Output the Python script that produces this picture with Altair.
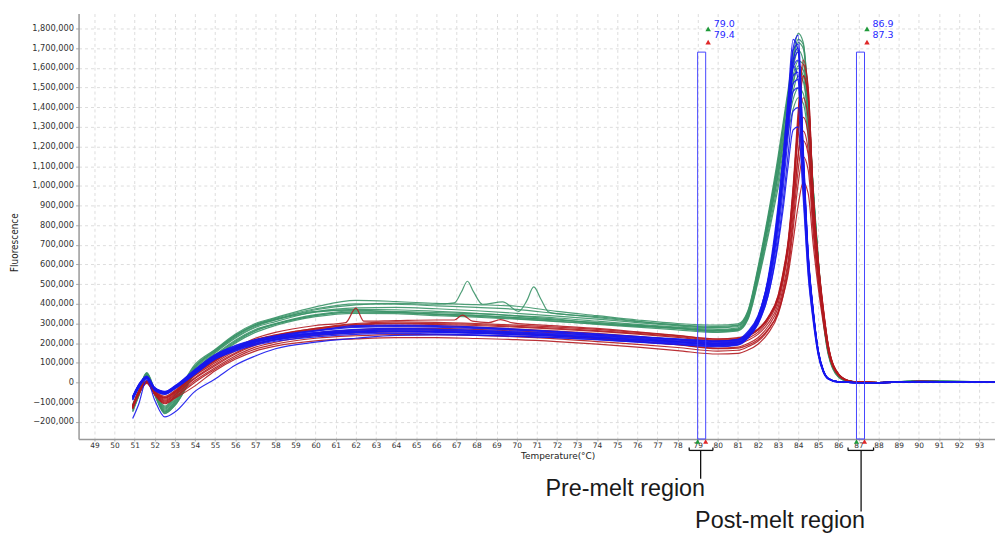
import altair as alt
import pandas as pd

# ---------------- data (fluorescence values in thousands) ----------------
T = [50.9, 51.2, 51.6, 52.0, 52.5, 53, 54, 55, 56, 57, 58, 60, 62, 64, 66, 68, 70, 72, 74, 76, 78, 80, 81,
     81.5, 82, 82.5, 83, 83.25, 83.5, 83.75, 84, 84.25, 84.5, 84.75, 85, 85.25, 85.5, 86, 86.5, 87, 88, 90, 94]

T_G2 = [50.9, 51.2, 51.6, 52.0, 52.5, 53, 54, 55, 56, 57, 58, 60, 62, 64, 66,
        66.9, 67.25, 67.55, 67.85, 68.3, 69.3, 70.1, 70.5, 70.85, 71.2, 71.6,
        72, 74, 76, 78, 80, 81,
        81.5, 82, 82.5, 83, 83.25, 83.5, 83.75, 84, 84.25, 84.5, 84.75, 85, 85.25, 85.5, 86, 86.5, 87, 88, 90, 94]

T_R1 = [50.9, 51.2, 51.6, 52.0, 52.5, 53, 54, 55, 56, 57, 58, 60,
        61.5, 62.0, 62.4, 64, 66, 66.9, 67.3, 67.8, 68.6, 69.2, 69.8,
        72, 74, 76, 78, 80, 81,
        81.5, 82, 82.5, 83, 83.25, 83.5, 83.75, 84, 84.25, 84.5, 84.75, 85, 85.25, 85.5, 86, 86.5, 87, 88, 90, 94]

G1 = [-115, -45, 45, -40, -125, -70, 92,
      168, 245, 300, 330, 385, 418, 412, 402, 396, 388, 362, 340, 318, 300, 292, 298,
      365, 585, 850, 1150, 1320, 1490, 1660, 1775, 1730, 1450, 980, 620, 340, 160, 35, 8, 3, 0, 6, 0]
G2 = [-130, -55, 40, -50, -140, -95, 75,
      160, 235, 290, 320, 370, 395, 402, 398,
      405, 460, 515, 462, 398, 410, 362, 415, 486, 425, 358,
      350, 335, 312, 292, 280, 290,
      355, 570, 830, 1120, 1290, 1460, 1630, 1728, 1700, 1440, 990, 630, 345, 165, 38, 9, 2, 0, 8, 0]
G3 = [-120, -50, 48, -55, -150, -105, 60,
      150, 225, 280, 310, 360, 380, 382, 375, 365, 352, 338, 322, 305, 288, 278, 285,
      350, 560, 820, 1110, 1280, 1450, 1600, 1690, 1640, 1390, 960, 600, 330, 150, 32, 6, 2, 0, 7, 0]
G4 = [-140, -65, 35, -60, -155, -115, 50,
      140, 215, 270, 300, 345, 365, 362, 355, 350, 340, 328, 312, 296, 282, 270, 278,
      345, 555, 810, 1090, 1250, 1410, 1560, 1635, 1620, 1400, 980, 620, 345, 165, 36, 8, 2, 0, 9, 0]
G5 = [-110, -40, 50, -35, -120, -65, 85,
      165, 240, 292, 322, 362, 368, 358, 348, 342, 330, 318, 305, 292, 278, 265, 272,
      335, 540, 790, 1060, 1220, 1380, 1520, 1598, 1560, 1330, 930, 590, 325, 150, 30, 5, 1, 0, 6, 0]
G6 = [-150, -70, 30, -65, -158, -117, 45,
      125, 200, 255, 290, 335, 352, 350, 340, 332, 322, 310, 298, 286, 275, 262, 268,
      330, 535, 785, 1050, 1200, 1350, 1480, 1558, 1530, 1330, 940, 600, 335, 155, 34, 7, 2, 0, 5, 0]
G7 = [-125, -55, 42, -48, -135, -88, 70,
      155, 230, 285, 318, 358, 372, 370, 362, 352, 338, 322, 300, 288, 275, 258, 265,
      325, 520, 760, 1020, 1170, 1320, 1440, 1498, 1470, 1280, 910, 580, 320, 148, 30, 6, 1, 0, 8, 0]
G8 = [-135, -60, 38, -52, -145, -100, 55,
      130, 205, 262, 296, 340, 360, 356, 345, 336, 325, 312, 296, 282, 268, 255, 262,
      320, 510, 740, 990, 1130, 1270, 1390, 1448, 1420, 1240, 880, 560, 310, 140, 28, 5, 1, 0, 6, 0]
G9 = [-118, -48, 46, -44, -130, -80, 80,
      160, 238, 295, 326, 375, 400, 398, 390, 382, 372, 350, 330, 310, 294, 285, 292,
      360, 575, 835, 1130, 1300, 1470, 1640, 1745, 1720, 1440, 975, 615, 338, 158, 34, 7, 2, 0, 6, 0]
G10 = [-145, -68, 32, -62, -150, -110, 48,
       135, 210, 265, 298, 342, 358, 356, 348, 340, 330, 318, 304, 290, 276, 265, 272,
       338, 545, 800, 1070, 1230, 1390, 1530, 1610, 1590, 1370, 960, 610, 340, 160, 35, 7, 2, 0, 7, 0]

B1 = [-75, -15, 30, -30, -50, -20, 60,
      135, 180, 210, 230, 255, 270, 275, 272, 265, 258, 250, 240, 228, 215, 205, 212,
      250, 330, 530, 900, 1150, 1430, 1700, 1766, 1200, 660, 370, 165, 65, 22, 3, 1, 0, 0, 5, 0]
B2 = [-80, -20, 25, -35, -55, -25, 55,
      128, 172, 205, 225, 250, 262, 268, 265, 260, 252, 243, 232, 220, 208, 198, 205,
      240, 320, 510, 880, 1140, 1450, 1745, 1690, 1100, 600, 340, 150, 58, 20, 3, 1, 0, 0, 4, 0]
B3 = [-70, -10, 33, -25, -45, -17, 67,
      142, 188, 218, 238, 265, 285, 288, 285, 278, 268, 258, 245, 232, 220, 210, 218,
      255, 335, 520, 850, 1080, 1360, 1640, 1700, 1180, 650, 365, 160, 62, 21, 3, 1, 0, 0, 5, 0]
B4 = [-85, -25, 22, -38, -60, -30, 45,
      120, 165, 195, 215, 240, 252, 258, 255, 250, 243, 235, 225, 212, 198, 188, 195,
      230, 305, 470, 800, 1040, 1330, 1600, 1640, 1150, 640, 360, 158, 60, 20, 3, 1, 0, 0, 4, 0]
B5 = [-72, -12, 28, -28, -48, -22, 62,
      138, 182, 212, 232, 262, 290, 292, 290, 282, 272, 260, 248, 235, 222, 212, 220,
      260, 340, 520, 840, 1060, 1320, 1560, 1578, 1120, 640, 360, 160, 60, 20, 3, 1, 0, 0, 6, 0]
B6 = [-78, -18, 26, -33, -52, -27, 50,
      125, 170, 200, 220, 245, 258, 262, 258, 252, 245, 238, 228, 216, 202, 192, 200,
      235, 305, 460, 760, 980, 1250, 1480, 1498, 1080, 620, 350, 155, 58, 19, 3, 1, 0, 0, 5, 0]
B7 = [-90, -28, 20, -40, -58, -30, 42,
      118, 160, 190, 210, 232, 245, 250, 247, 242, 236, 228, 218, 205, 192, 182, 190,
      225, 295, 440, 720, 920, 1160, 1380, 1398, 980, 560, 320, 142, 54, 18, 2, 1, 0, 0, 4, 0]
B8 = [-183, -110, 15, -90, -175, -150, -45,
      18, 88, 135, 172, 205, 225, 240, 242, 240, 235, 228, 218, 206, 195, 185, 193,
      230, 300, 440, 700, 880, 1100, 1285, 1300, 940, 540, 310, 138, 52, 17, 2, 1, 0, 0, 5, 0]
B9 = [-82, -22, 24, -36, -56, -28, 52,
      130, 176, 208, 228, 252, 266, 272, 270, 264, 256, 246, 236, 224, 212, 202, 209,
      245, 325, 500, 860, 1110, 1400, 1690, 1720, 1160, 640, 360, 160, 62, 21, 3, 1, 0, 0, 5, 0]
B10 = [-76, -16, 29, -29, -49, -21, 58,
       132, 178, 206, 226, 248, 258, 262, 260, 255, 248, 240, 230, 218, 206, 196, 203,
       238, 315, 490, 820, 1060, 1340, 1620, 1680, 1150, 630, 355, 156, 60, 20, 3, 1, 0, 0, 4, 0]
B11 = [-88, -26, 21, -39, -57, -31, 44,
       122, 168, 198, 218, 242, 256, 262, 260, 255, 248, 240, 230, 218, 205, 195, 202,
       236, 310, 480, 810, 1050, 1340, 1610, 1540, 1040, 600, 340, 150, 57, 19, 3, 1, 0, 0, 4, 0]
B12 = [-74, -14, 31, -27, -47, -19, 64,
       140, 186, 216, 236, 262, 280, 284, 282, 275, 266, 256, 244, 232, 219, 209, 216,
       250, 330, 500, 810, 1030, 1300, 1520, 1540, 1080, 620, 350, 155, 58, 19, 3, 1, 0, 0, 5, 0]

R1 = [-120, -45, 8, -45, -75, -45, 48, 115, 175, 225, 255, 290,
      305, 378, 312, 315, 318, 318, 343, 312, 305, 320, 303,
      288, 275, 258, 240, 222, 228,
      240, 270, 330, 440, 560, 720, 1000, 1380, 1640, 1500, 960, 620, 380, 190, 45, 10, 2, 0, 6, 0]
R2 = [-125, -50, 5, -50, -85, -55, 35,
      100, 160, 205, 232, 268, 285, 290, 288, 282, 272, 262, 250, 235, 218, 200, 205,
      225, 255, 315, 420, 540, 700, 970, 1340, 1618, 1490, 960, 615, 375, 188, 44, 10, 2, 0, 5, 0]
R3 = [-128, -55, 2, -55, -95, -65, 20,
      85, 145, 190, 218, 252, 268, 275, 275, 270, 262, 252, 240, 225, 208, 190, 195,
      215, 245, 300, 400, 510, 670, 930, 1290, 1558, 1450, 940, 605, 370, 185, 43, 9, 2, 0, 6, 0]
R4 = [-122, -48, 6, -48, -80, -50, 40,
      108, 168, 212, 238, 272, 292, 298, 295, 290, 282, 272, 260, 246, 230, 212, 216,
      235, 265, 325, 430, 545, 700, 950, 1250, 1448, 1340, 900, 585, 360, 180, 42, 9, 2, 0, 5, 0]
R5 = [-130, -58, 0, -58, -100, -72, 10,
      75, 135, 180, 205, 238, 252, 258, 258, 252, 244, 235, 222, 208, 192, 175, 180,
      198, 228, 285, 380, 480, 620, 860, 1160, 1348, 1260, 860, 565, 350, 175, 40, 9, 2, 0, 4, 0]
R6 = [-118, -42, 8, -42, -70, -40, 50,
      118, 175, 218, 242, 275, 296, 302, 300, 295, 286, 276, 264, 250, 234, 216, 220,
      238, 268, 325, 425, 530, 675, 900, 1150, 1278, 1180, 820, 545, 340, 172, 40, 9, 2, 0, 6, 0]
R7 = [-135, -62, -5, -62, -108, -80, -17,
      60, 118, 160, 185, 212, 222, 228, 228, 224, 218, 208, 195, 180, 162, 145, 148,
      165, 195, 250, 345, 440, 570, 780, 1010, 1148, 1080, 760, 510, 320, 162, 38, 8, 2, 0, 5, 0]
R8 = [-125, -52, 3, -52, -90, -60, 25,
      92, 150, 195, 220, 250, 262, 268, 266, 260, 252, 240, 226, 210, 192, 172, 175,
      190, 218, 270, 355, 440, 550, 720, 900, 1018, 960, 700, 480, 300, 155, 36, 8, 2, 0, 4, 0]
R9 = [-121, -47, 7, -46, -78, -48, 44,
      112, 170, 215, 240, 276, 300, 308, 306, 300, 292, 282, 270, 255, 238, 220, 224,
      242, 272, 332, 440, 555, 710, 980, 1320, 1560, 1450, 935, 600, 368, 184, 43, 9, 2, 0, 6, 0]
R10 = [-132, -60, -2, -60, -104, -76, 2,
       68, 126, 170, 195, 225, 238, 244, 244, 240, 232, 222, 208, 194, 178, 160, 164,
       182, 210, 265, 360, 460, 595, 820, 1080, 1230, 1160, 800, 530, 330, 166, 39, 8, 2, 0, 5, 0]

curves = [
    ("G1", "green", T, G1), ("G2", "green", T_G2, G2), ("G3", "green", T, G3), ("G4", "green", T, G4),
    ("G5", "green", T, G5), ("G6", "green", T, G6), ("G7", "green", T, G7), ("G8", "green", T, G8),
    ("G9", "green", T, G9), ("G10", "green", T, G10),
    ("R1", "red", T_R1, R1), ("R2", "red", T, R2), ("R3", "red", T, R3), ("R4", "red", T, R4),
    ("R5", "red", T, R5), ("R6", "red", T, R6), ("R7", "red", T, R7), ("R8", "red", T, R8),
    ("R9", "red", T, R9), ("R10", "red", T, R10),
    ("B1", "blue", T, B1), ("B2", "blue", T, B2), ("B3", "blue", T, B3), ("B4", "blue", T, B4),
    ("B5", "blue", T, B5), ("B6", "blue", T, B6), ("B7", "blue", T, B7), ("B8", "blue", T, B8),
    ("B9", "blue", T, B9), ("B10", "blue", T, B10), ("B11", "blue", T, B11), ("B12", "blue", T, B12),
]

# melt regions (start / end temperature) and their marker labels
region_start = [79.0, 86.9]
region_end = [79.4, 87.3]
region_top = [1680000, 1680000]
start_labels = ["79.0", "86.9"]
end_labels = ["79.4", "87.3"]
region_names = ["Pre-melt region", "Post-melt region"]
bracket_left = [78.58, 86.48]
bracket_right = [79.76, 87.75]
bracket_mid = [79.15, 87.13]
name_center = [75.4, 83.1]

rows = []
for name, grp, xs_, ys_ in curves:
    assert len(xs_) == len(ys_), name
    for t, v in zip(xs_, ys_):
        rows.append({"T": t, "F": v * 1000, "curve": name, "group": grp})
df = pd.DataFrame(rows)

COLORS = {"green": "#3b9468", "red": "#b3191f", "blue": "#1717ee"}

X_DOMAIN = [48.21, 93.79]
Y_DOMAIN = [-287000, 1876000]
xsc = alt.Scale(domain=X_DOMAIN, nice=False, zero=False)
ysc = alt.Scale(domain=Y_DOMAIN, nice=False, zero=False)

FONT = "DejaVu Sans"
x_axis = alt.Axis(values=list(range(49, 94)), title="Temperature(°C)", labelFont=FONT, labelFontSize=7.5,
                  labelColor="#333333", tickSize=2, tickColor="#aaaaaa", labelPadding=1,
                  domainColor="#999999", domainWidth=1.5, grid=True, gridColor="#dddddd",
                  gridDash=[3, 3], labelFlush=False, labelOverlap=False,
                  titleFont=FONT, titleFontSize=9, titleFontWeight="normal", titleColor="#222222",
                  titleX=482, titleY=17, titleBaseline="middle", titleAlign="center")
y_axis = alt.Axis(values=list(range(-200000, 1800001, 100000)), format=",.0f", formatType="number",
                  title="Fluorescence",
                  labelFont=FONT, labelFontSize=8.3, labelColor="#333333", tickSize=3,
                  tickColor="#aaaaaa", labelPadding=2, domainColor="#999999", domainWidth=1.5,
                  grid=True, gridColor="#dddddd", gridDash=[3, 3], labelFlush=False, labelOverlap=False,
                  titleFont="DejaVu Sans Condensed", titleFontSize=10, titleFontWeight="normal",
                  titleColor="#222222", titleX=-64, titleY=230, titleAngle=270,
                  titleBaseline="middle", titleAlign="center")


def X(field):
    return alt.X(field, scale=xsc, axis=x_axis)


def line_layer(g):
    return alt.Chart(df[df.group == g]).mark_line(
        interpolate="monotone", strokeWidth=1.2, clip=True, opacity=0.9, color=COLORS[g]
    ).encode(
        x=X("T:Q"),
        y=alt.Y("F:Q", scale=ysc, axis=y_axis),
        detail="curve:N",
    )


reg = pd.DataFrame({"x0": region_start, "x1": region_end, "top": region_top,
                    "l0": start_labels, "l1": end_labels, "name": region_names,
                    "bl": bracket_left, "br": bracket_right, "bm": bracket_mid, "nc": name_center})

rect = alt.Chart(reg).mark_rect(fillOpacity=0, stroke="#4646ff", strokeWidth=1).encode(
    x=X("x0:Q"), x2="x1:Q",
    y=alt.Y("top:Q", scale=ysc, axis=y_axis), y2=alt.value(428))

tri_top_g = alt.Chart(reg).mark_point(shape="triangle-up", filled=True, size=30, color="#1f9a3a",
                                      opacity=1, xOffset=2.5).encode(x=X("x1:Q"), y=alt.value(15.3))
tri_top_r = alt.Chart(reg).mark_point(shape="triangle-up", filled=True, size=30, color="#e02828",
                                      opacity=1, xOffset=2.5).encode(x=X("x1:Q"), y=alt.value(28.7))
lab0 = alt.Chart(reg).mark_text(align="left", baseline="middle", font=FONT, fontSize=9.5,
                                color="#1f1fff", dx=8).encode(x=X("x1:Q"), y=alt.value(10.7), text="l0:N")
lab1 = alt.Chart(reg).mark_text(align="left", baseline="middle", font=FONT, fontSize=9.5,
                                color="#1f1fff", dx=8).encode(x=X("x1:Q"), y=alt.value(21.3), text="l1:N")

tri_bot_g = alt.Chart(reg).mark_point(shape="triangle-up", filled=True, size=26, color="#1f9a3a",
                                      opacity=1).encode(x=X("x0:Q"), y=alt.value(430.5))
tri_bot_r = alt.Chart(reg).mark_point(shape="triangle-up", filled=True, size=26, color="#e02828",
                                      opacity=1).encode(x=X("x1:Q"), y=alt.value(430.5))

RULE = dict(color="#111111", strokeWidth=1.3)
br_h = alt.Chart(reg).mark_rule(**RULE).encode(x=X("bl:Q"), x2="br:Q", y=alt.value(439.5))
br_l = alt.Chart(reg).mark_rule(**RULE).encode(x=X("bl:Q"), y=alt.value(436.5), y2=alt.value(439.5))
br_r = alt.Chart(reg).mark_rule(**RULE).encode(x=X("br:Q"), y=alt.value(436.5), y2=alt.value(439.5))
stem_pre = alt.Chart(reg.iloc[[0]]).mark_rule(**RULE).encode(
    x=X("bm:Q"), y=alt.value(439.5), y2=alt.value(468))
stem_post = alt.Chart(reg.iloc[[1]]).mark_rule(**RULE).encode(
    x=X("bm:Q"), y=alt.value(439.5), y2=alt.value(501))

name_pre = alt.Chart(reg.iloc[[0]]).mark_text(font="Liberation Sans", fontSize=23.5, color="#1a1a1a",
                                              baseline="alphabetic", align="center").encode(
    x=X("nc:Q"), y=alt.value(485.5), text="name:N")
name_post = alt.Chart(reg.iloc[[1]]).mark_text(font="Liberation Sans", fontSize=23.5, color="#1a1a1a",
                                               baseline="alphabetic", align="center").encode(
    x=X("nc:Q"), y=alt.value(518), text="name:N")

chart = alt.layer(
    line_layer("green"), line_layer("red"), line_layer("blue"),
    rect, tri_top_g, tri_top_r, lab0, lab1, tri_bot_g, tri_bot_r,
    br_h, br_l, br_r, stem_pre, stem_post, name_pre, name_post,
).properties(
    width=922, height=428,
    padding={"left": 71, "top": 4, "right": 0, "bottom": 94},
    autosize=alt.AutoSizeParams(type="none"),
    background="white",
).configure_view(stroke=None)

chart.save("out.html", embed_options={"renderer": "svg", "actions": False})
